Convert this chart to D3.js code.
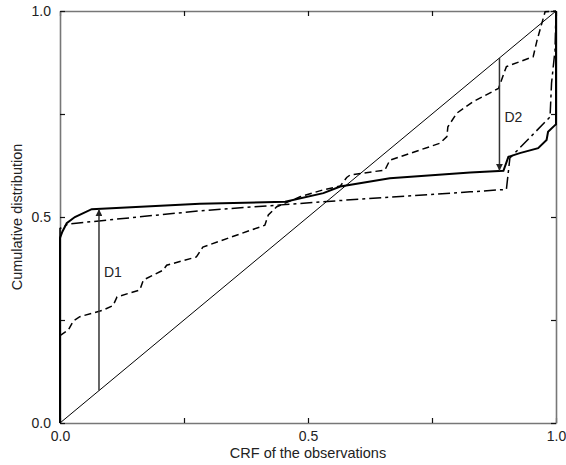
<!DOCTYPE html>
<html><head><meta charset="utf-8">
<script src="https://cdn.jsdelivr.net/npm/d3@7"></script>
<style>body{margin:0;background:#fff}svg{display:block}text{font-family:"Liberation Sans",Arial,sans-serif}</style>
</head><body><svg id="c" width="566" height="465"></svg>
<script>
// ---- data ----
const tickValues = [0, 0.25, 0.5, 0.75, 1];
const tickLabels = {0: "0.0", 0.5: "0.5", 1: "1.0"};
const xTitle = "CRF of the observations";
const yTitle = "Cumulative distribution";

const diagX = [0, 1];
const diagY = [0, 1];

const solidX = [0, 0, 0.005, 0.0135, 0.03, 0.064, 0.282, 0.454, 0.531, 0.565, 0.665, 0.827, 0.894, 0.904, 0.927, 0.964, 0.981, 0.984, 0.998, 1, 1];
const solidY = [0, 0.449, 0.465, 0.485, 0.50, 0.519, 0.532, 0.537, 0.558, 0.574, 0.594, 0.608, 0.612, 0.646, 0.655, 0.667, 0.687, 0.707, 0.723, 0.725, 1];

const dashDotX = [0, 0, 0.016, 0.282, 0.565, 0.827, 0.9, 0.907, 0.988, 0.991, 0.998, 1];
const dashDotY = [0, 0.472, 0.483, 0.515, 0.54, 0.561, 0.567, 0.643, 0.743, 0.825, 0.905, 1];

const dashedX = [0, 0.017, 0.027, 0.04, 0.087, 0.107, 0.115, 0.161, 0.168, 0.208, 0.215, 0.275, 0.288, 0.413, 0.42, 0.437, 0.484, 0.531, 0.565, 0.578, 0.585, 0.655, 0.665, 0.766, 0.78, 0.782, 0.80, 0.833, 0.884, 0.90, 0.954, 0.962, 0.978, 1];
const dashedY = [0.212, 0.226, 0.248, 0.258, 0.274, 0.285, 0.306, 0.323, 0.347, 0.371, 0.383, 0.403, 0.427, 0.48, 0.505, 0.525, 0.549, 0.566, 0.575, 0.596, 0.602, 0.614, 0.638, 0.679, 0.695, 0.719, 0.752, 0.78, 0.812, 0.865, 0.889, 0.93, 0.998, 1];

const arrowD1 = {x: 0.0786, from: 0.0786, to: 0.519, label: "D1"};
const arrowD2 = {x: 0.886, from: 0.886, to: 0.612, label: "D2"};

// ---- drawing ----
const svg = d3.select("#c");
const x = d3.scaleLinear().domain([0, 1]).range([60, 556]);
const y = d3.scaleLinear().domain([0, 1]).range([423, 11]);
const fmt = d => tickLabels[d] || "";

const axisColor = "#777";
function styleAxis(g) {
  g.select(".domain").attr("stroke", axisColor).attr("stroke-width", 1.6);
  g.selectAll(".tick line").attr("stroke", "#111").attr("stroke-width", 1.2);
  g.selectAll(".tick text").attr("fill", "#222").style("font-size", "14px").style("font-family", '"Liberation Sans",Arial,sans-serif');
}
svg.append("g").attr("transform", `translate(0,${y(0)})`)
  .call(d3.axisBottom(x).tickValues(tickValues).tickFormat(fmt).tickSizeInner(-5).tickSizeOuter(0).tickPadding(8))
  .call(styleAxis);
svg.append("g").attr("transform", `translate(0,${y(1)})`)
  .call(d3.axisTop(x).tickValues(tickValues).tickFormat("").tickSizeInner(-5).tickSizeOuter(0))
  .call(styleAxis);
svg.append("g").attr("transform", `translate(${x(0)},0)`)
  .call(d3.axisLeft(y).tickValues(tickValues).tickFormat(fmt).tickSizeInner(-5).tickSizeOuter(0).tickPadding(9))
  .call(styleAxis);
svg.append("g").attr("transform", `translate(${x(1)},0)`)
  .call(d3.axisRight(y).tickValues(tickValues).tickFormat("").tickSizeInner(-5).tickSizeOuter(0))
  .call(styleAxis);

const line = d3.line().x(d => x(d[0])).y(d => y(d[1]));
const zip = (a, b) => a.map((v, i) => [v, b[i]]);

svg.append("path").attr("d", line(zip(diagX, diagY))).attr("fill", "none").attr("stroke", "#000").attr("stroke-width", 1);
svg.append("path").attr("d", line(zip(dashedX, dashedY))).attr("fill", "none").attr("stroke", "#000").attr("stroke-width", 1.5).attr("stroke-dasharray", "7,4");
svg.append("path").attr("d", line(zip(dashDotX, dashDotY))).attr("fill", "none").attr("stroke", "#000").attr("stroke-width", 1.5).attr("stroke-dasharray", "12,4,3,4");
svg.append("path").attr("d", line(zip(solidX, solidY))).attr("fill", "none").attr("stroke", "#000").attr("stroke-width", 2);

const defs = svg.append("defs");
defs.append("marker").attr("id", "ah").attr("viewBox", "0 0 10 10").attr("refX", 10).attr("refY", 5)
  .attr("markerWidth", 7).attr("markerHeight", 7).attr("markerUnits", "userSpaceOnUse").attr("orient", "auto")
  .append("path").attr("d", "M0,0 L10,5 L0,10 z").attr("fill", "#222");

function arrow(a, lx, ly) {
  svg.append("line").attr("x1", x(a.x)).attr("x2", x(a.x)).attr("y1", y(a.from)).attr("y2", y(a.to))
    .attr("stroke", "#333").attr("stroke-width", 1.5).attr("marker-end", "url(#ah)");
  svg.append("text").attr("x", x(a.x) + lx).attr("y", y(ly)).attr("fill", "#222").style("font-size", "14px").text(a.label);
}
arrow(arrowD1, 5, 0.354);
arrow(arrowD2, 5, 0.730);

svg.append("text").attr("x", x(0.5)).attr("y", 458).attr("text-anchor", "middle").attr("fill", "#222").style("font-size", "14.5px").text(xTitle);
svg.append("text").attr("transform", `translate(22,${y(0.5)}) rotate(-90)`).attr("text-anchor", "middle").attr("fill", "#222").style("font-size", "14.5px").text(yTitle);
</script></body></html>
